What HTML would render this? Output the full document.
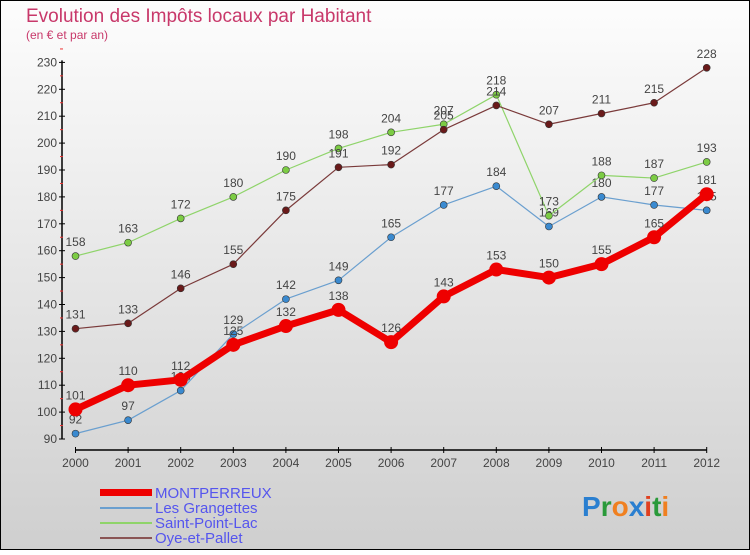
<!DOCTYPE html>
<html><head><meta charset="utf-8"><style>
body{margin:0;width:750px;height:550px;overflow:hidden;font-family:"Liberation Sans",sans-serif}
</style></head><body>
<svg id="c" width="750" height="550" xmlns="http://www.w3.org/2000/svg">
<defs><linearGradient id="bg" x1="0" y1="0" x2="0" y2="1"><stop offset="0" stop-color="#fdfdfd"/><stop offset="1" stop-color="#cfcfcf"/></linearGradient></defs>
<rect x="0.5" y="0.5" width="749" height="549" fill="url(#bg)" stroke="#000"/>
<text x="26" y="22" font-size="19" fill="#c8386a">Evolution des Impôts locaux par Habitant</text>
<text x="26" y="39" font-size="12" fill="#c8386a">(en € et par an)</text>
<g id="axes"></g><g id="series"></g>
<g>
<rect x="100" y="489" width="52" height="7" fill="#e00"/>
<text x="155" y="498" font-size="15" fill="#5555ee">MONTPERREUX</text>
<line x1="100" y1="508" x2="152" y2="508" stroke="#6a9fcf" stroke-width="2"/>
<text x="155" y="513" font-size="15" fill="#5555ee">Les Grangettes</text>
<line x1="100" y1="523" x2="152" y2="523" stroke="#8fd46a" stroke-width="2"/>
<text x="155" y="528" font-size="15" fill="#5555ee">Saint-Point-Lac</text>
<line x1="100" y1="538" x2="152" y2="538" stroke="#8a5555" stroke-width="2"/>
<text x="155" y="543" font-size="15" fill="#5555ee">Oye-et-Pallet</text>
</g>
<text x="582" y="516" font-size="28" font-weight="bold"><tspan fill="#2a7fd0">P</tspan><tspan fill="#2a9a3a">r</tspan><tspan fill="#f08020">o</tspan><tspan fill="#2a7fd0">x</tspan><tspan fill="#e04020">i</tspan><tspan fill="#2a9a3a">t</tspan><tspan fill="#f08020">i</tspan></text>
</svg>
<script>
const years=[2000,2001,2002,2003,2004,2005,2006,2007,2008,2009,2010,2011,2012];
const montperreux=[101,110,112,125,132,138,126,143,153,150,155,165,181];
const grangettes=[92,97,108,129,142,149,165,177,184,169,180,177,175];
const saintPoint=[158,163,172,180,190,198,204,207,218,173,188,187,193];
const oye=[131,133,146,155,175,191,192,205,214,207,211,215,228];
const yTicks=[90,100,110,120,130,140,150,160,170,180,190,200,210,220,230];
const NS="http://www.w3.org/2000/svg";
const X=i=>75.5+i*52.6;
const Y=v=>439-(v-90)*26.9/10;
function mk(tag,attrs,parent){const e=document.createElementNS(NS,tag);for(const k in attrs)e.setAttribute(k,attrs[k]);parent.appendChild(e);return e;}
const ax=document.getElementById('axes');
let yl=mk('line',{x1:62,y1:Y(230)-2,x2:62,y2:Y(90),stroke:'#000','stroke-width':1.5},ax);


yTicks.forEach(t=>{
 mk('line',{x1:59,x2:65,y1:Y(t),y2:Y(t),stroke:'#000'},ax);
 mk('line',{x1:60,x2:63,y1:Y(t+5),y2:Y(t+5),stroke:'#e33'},ax);
 const tx=mk('text',{x:57,y:Y(t)+4,'font-size':12,fill:'#444','text-anchor':'end'},ax);
 tx.textContent=t;
 
 
});
let xl=mk('line',{x1:X(0),y1:450,x2:X(12),y2:450,stroke:'#000','stroke-width':1.5},ax);


years.forEach((y,i)=>{
 mk('line',{x1:X(i),x2:X(i),y1:447,y2:453,stroke:'#000'},ax);
 const tx=mk('text',{x:X(i),y:467,'font-size':12,fill:'#444','text-anchor':'middle'},ax);
 tx.textContent=y;
 
 
});
const sg=document.getElementById('series');
function draw(data,name,color,w,r,dot){
 const g=mk('g',{},sg);
 
 
 const pl=mk('polyline',{points:data.map((v,i)=>X(i)+','+Y(v)).join(' '),fill:'none',stroke:color,'stroke-width':w,'stroke-linejoin':'round'},g);
 
 
 data.forEach((v,i)=>{
  const c=mk('circle',{cx:X(i),cy:Y(v),r:r,fill:dot,stroke:'#333','stroke-width':w>3?0:0.6},g);
  
  
  const t=mk('text',{x:X(i),y:Y(v)-10,'font-size':12,fill:'#444','text-anchor':'middle'},g);
  t.textContent=v;
  
  
 });
}
draw(grangettes,'les-grangettes','#6a9fcf',1.2,3.5,'#3a8ad0');
draw(saintPoint,'saint-point-lac','#8fd46a',1.2,3.5,'#7ccc44');
draw(oye,'oye-et-pallet','#7a3a3a',1.2,3.5,'#6a1a1a');
draw(montperreux,'montperreux','#ee0000',7,7,'#ee0000');
</script>
</body></html>
